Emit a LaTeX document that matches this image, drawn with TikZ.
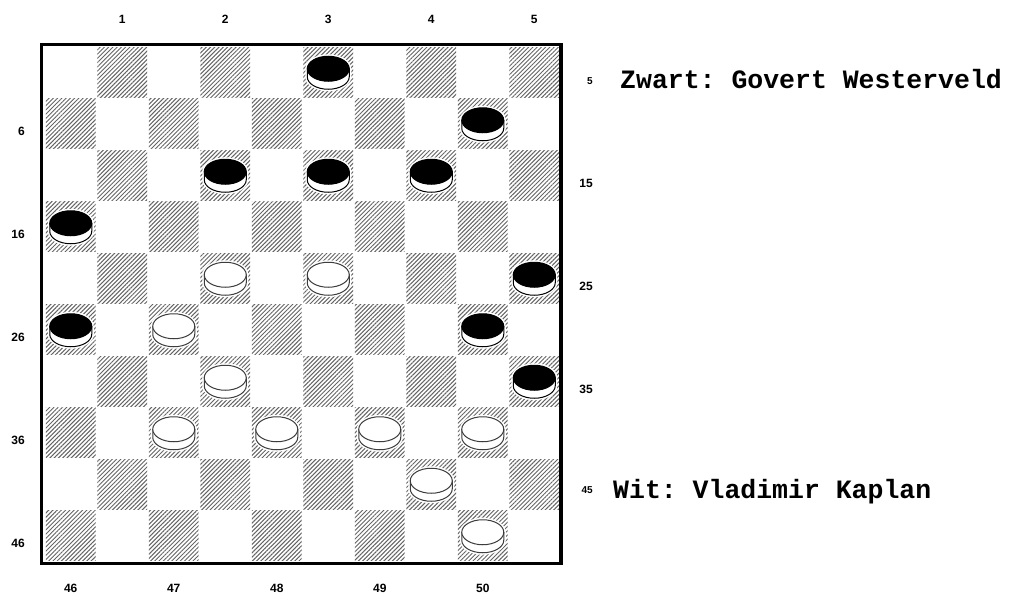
\documentclass[tikz,border=0pt]{standalone}
\usepackage{fontspec}
\setmainfont{Liberation Sans}
\newfontfamily\namefont{Liberation Mono}
\usetikzlibrary{patterns.meta}

\definecolor{hatchgray}{RGB}{100,100,100}
\definecolor{rimgray}{RGB}{60,60,60}

% board geometry (1 unit = 1 px of the original)
\def\bx{45}
\def\by{46.5}
\def\sq{51.5}

\tikzset{
  darksq/.style={pattern={Lines[angle=45,distance=3pt,line width=1pt]}, pattern color=hatchgray},
  coordlbl/.style={font=\bfseries\fontsize{12}{12}\selectfont, inner sep=0pt},
  smalllbl/.style={font=\bfseries\fontsize{10}{10}\selectfont, inner sep=0pt},
  player/.style={font=\namefont\bfseries\frenchspacing\fontsize{26.5}{28}\selectfont, anchor=base west, inner sep=0pt}
}

% one disc: #1 centre, #2 top colour, #3 rim colour
\newcommand{\drawdisc}[3]{
  \begin{scope}[shift={#1}]
    \fill[white] (-23,-3.5) -- (-23,4.5) arc (180:0:23 and 14.5) -- (23,-3.5) arc (0:-180:23 and 14.5) -- cycle;
    \filldraw[fill=white, draw=#3, line width=1] (-21,-3.5) -- (-21,4.5) arc (180:0:21 and 12.5) -- (21,-3.5) -- cycle;
    \filldraw[fill=#2, draw=#3, line width=1] (0,-3.5) ellipse (21 and 12.5);
  \end{scope}
}

\begin{document}
\begin{tikzpicture}[x=1pt, y=-1pt]
  \useasboundingbox (0,0) rectangle (1010,597);

  % Dark squares
  \foreach \r in {1,...,10}
    \foreach \c in {1,...,10} {
      \pgfmathtruncatemacro\s{\r+\c}
      \ifodd\s
        \fill[darksq] ({\bx+\sq*(\c-1)+0.8}, {\by+\sq*(\r-1)+0.8}) rectangle ++({\sq-1.6}, {\sq-1.6});
      \fi
    }

  % Frame
  \draw[line width=3.4] (41.5,44.5) rectangle (561,563.5);

  % Pieces, by square number
  \foreach \n/\col/\rim in {3/black/black,10/black/black,12/black/black,13/black/black,14/black/black,
                            16/black/black,25/black/black,26/black/black,30/black/black,35/black/black,
                            22/white/rimgray,23/white/rimgray,27/white/rimgray,32/white/rimgray,37/white/rimgray,
                            38/white/rimgray,39/white/rimgray,40/white/rimgray,44/white/rimgray,50/white/rimgray} {
    \pgfmathtruncatemacro\r{int((\n-1)/5)+1}
    \pgfmathtruncatemacro\c{2*mod(\n-1,5)+1+mod(\r,2)}
    \coordinate (sq\n) at ({\bx+\sq*(\c-0.5)}, {\by+\sq*(\r-0.5)});
    \drawdisc{(sq\n)}{\col}{\rim}
  }

  % Column numbers
  \foreach \k in {1,...,5} {
    \node[coordlbl] (top\k) at ({\bx+\sq*(2*\k-0.5)}, 19) {\k};
    \node[coordlbl] (bot\k) at ({\bx+\sq*(2*\k-1.5)}, 588) {\the\numexpr45+\k\relax};
  }

  % Row numbers
  \foreach \r/\n in {2/6,4/16,6/26,8/36,10/46}
    \node[coordlbl, anchor=east] (left\n) at (25, {\by+\sq*(\r-0.5)+8}) {\n};
  \foreach \r/\n in {3/15,5/25,7/35}
    \node[coordlbl, anchor=east] (right\n) at (593, {\by+\sq*(\r-0.5)+8}) {\n};
  \node[smalllbl, anchor=east] (right5) at (593, 81) {5};
  \node[smalllbl, anchor=east] (right45) at (593, 490) {45};

  % Players
  \node[player] (black) at (620, 88) {Zwart: Govert Westerveld};
  \node[player] (white) at (613, 498) {Wit: Vladimir Kaplan};
\end{tikzpicture}
\end{document}
